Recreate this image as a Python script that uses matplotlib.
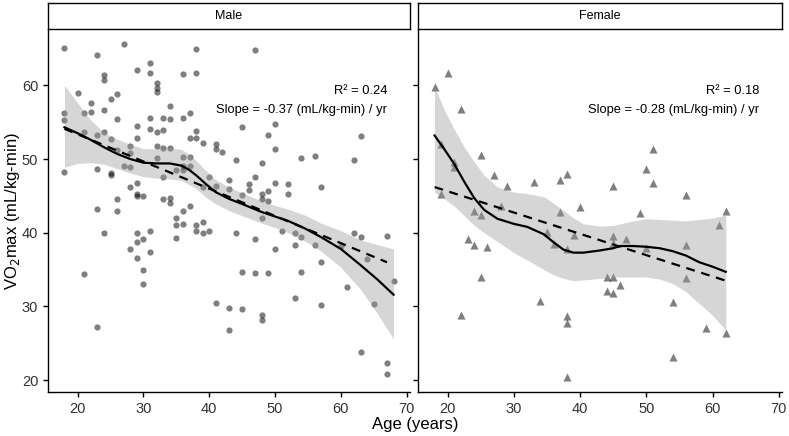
import matplotlib
matplotlib.use("Agg")
import matplotlib.pyplot as plt
import numpy as np

plt.rcParams['font.family'] = ['Liberation Sans', 'DejaVu Sans']

# ---- data ----
male_age = [18, 27, 23, 31, 29, 31, 24, 24, 32, 32, 32, 20, 25, 26, 22, 34, 21, 22, 24, 18,
            18, 26, 31, 33, 34, 29, 31, 32, 33, 21, 23, 24, 25, 29, 28, 28, 32, 33, 34, 26,
            32, 27, 28, 18, 23, 25, 38, 38, 36, 37, 36, 38, 37, 38, 39, 41, 41, 36, 37, 36,
            37, 35, 36, 40, 41, 28, 29, 29, 29, 30, 33, 34, 34, 23, 26, 35, 36, 37, 25, 33,
            26, 35, 35, 24, 29, 31, 30, 29, 28, 31, 29, 30, 21, 30, 23, 41, 43, 47, 39, 43,
            46, 46, 50, 52, 49, 48, 48, 49, 45, 52, 36, 38, 39, 38, 39, 40, 44, 48, 47, 51,
            53, 54, 53, 50, 45, 47, 49, 54, 43, 45, 53, 56, 62, 63, 67, 57, 64, 68, 61, 48,
            48, 43, 57, 65, 63, 67, 67, 47, 45, 50, 49, 63, 42, 44, 50, 48, 54, 56, 62, 57, 60]
male_vo2 = [65.1, 65.6, 64.1, 63.0, 62.1, 61.6, 61.4, 60.7, 60.3, 59.7, 59.1, 58.9, 58.2, 58.8,
            57.6, 57.2, 56.3, 56.4, 56.7, 56.2, 55.3, 55.4, 55.6, 55.6, 55.4, 54.5, 54.1, 53.6,
            54.0, 53.7, 53.3, 53.6, 52.7, 52.9, 51.8, 50.8, 51.7, 51.5, 51.5, 51.2, 50.1, 49.0,
            48.9, 48.2, 48.6, 48.1, 64.9, 61.6, 61.5, 56.2, 55.6, 53.8, 52.8, 52.8, 52.2, 52.1,
            51.3, 50.3, 50.3, 49.1, 49.1, 48.5, 48.5, 47.6, 46.4, 46.2, 46.7, 45.3, 45.0, 45.0,
            44.6, 44.7, 44.1, 43.2, 42.9, 42.0, 42.9, 43.6, 47.8, 47.5, 44.6, 41.0, 39.3, 40.0,
            40.0, 40.2, 39.2, 38.7, 37.8, 37.4, 36.6, 35.0, 34.4, 33.0, 27.2, 30.5, 47.2, 47.5,
            46.2, 45.9, 46.6, 45.8, 46.7, 46.6, 45.7, 45.3, 44.6, 44.3, 45.1, 45.3, 41.2, 41.1,
            41.4, 40.3, 39.9, 40.2, 39.9, 42.0, 39.2, 40.2, 40.0, 39.4, 38.3, 37.8, 34.7, 34.5,
            34.5, 34.7, 29.8, 29.6, 31.1, 38.4, 39.9, 39.4, 39.6, 36.0, 36.4, 33.5, 32.6, 28.8,
            28.2, 26.8, 30.2, 30.4, 23.8, 22.4, 20.8, 64.8, 54.4, 54.7, 53.2, 53.1, 50.9, 49.9,
            51.3, 49.4, 50.1, 50.4, 49.8, 46.2, 38.2]

female_age = [20, 18, 22, 19, 21, 21, 25, 27, 29, 33, 37, 38, 40, 37, 19, 24, 25, 28, 23, 24,
              26, 25, 22, 34, 38, 38, 38, 35, 39, 38, 36, 51, 50, 51, 45, 56, 49, 62, 61, 45,
              45, 47, 50, 56, 56, 44, 45, 44, 45, 46, 54, 59, 62, 54]
female_vo2 = [61.7, 59.8, 56.8, 52.0, 49.6, 48.9, 50.6, 47.9, 46.3, 46.9, 47.1, 48.0, 43.5,
              42.8, 45.2, 43.0, 42.4, 43.6, 39.1, 38.3, 38.1, 34.0, 28.9, 30.7, 28.7, 27.8,
              20.4, 40.1, 39.7, 37.8, 38.5, 51.3, 48.6, 46.7, 46.3, 45.1, 42.7, 42.9, 41.0,
              39.6, 38.6, 39.1, 37.9, 38.4, 33.9, 34.0, 34.0, 32.1, 31.8, 32.9, 30.6, 27.1,
              26.4, 23.1]

# smooth (loess) curve and band
male_fit_age = [18, 20, 22, 24, 26, 28, 30, 32, 34, 35.8, 37, 38, 39.5, 41, 43, 45, 48, 50,
                52, 54.5, 57, 60, 63, 65.5, 68]
male_fit = [54.3, 53.5, 52.6, 51.6, 50.7, 50.0, 49.5, 49.4, 49.4, 49.1, 48.5, 47.8, 46.6, 45.5,
            44.6, 43.9, 42.8, 42.2, 41.6, 40.6, 39.4, 37.8, 35.6, 33.7, 31.6]
male_hi = [60.0, 57.6, 55.3, 53.6, 52.7, 52.0, 51.4, 51.4, 51.5, 51.3, 50.6, 49.8, 48.4, 47.2,
           46.2, 45.4, 44.3, 43.7, 43.2, 42.4, 41.3, 40.3, 39.0, 38.4, 37.8]
male_lo = [48.9, 49.4, 49.5, 49.3, 48.7, 48.1, 47.6, 47.4, 47.3, 47.1, 46.5, 46.0, 44.8, 43.9,
           43.0, 42.3, 41.3, 40.7, 40.0, 38.9, 37.5, 35.3, 32.3, 29.1, 25.6]

female_fit_age = [18, 19.5, 21, 22.5, 24, 25.5, 27.5, 30, 32, 34.5, 36, 37.5, 39, 40.5, 43, 45,
                  46, 48, 50, 52, 54, 56, 58, 60, 62]
female_fit = [53.2, 51.3, 49.3, 46.9, 44.7, 43.1, 41.9, 41.2, 40.8, 39.8, 38.7, 37.7, 37.3, 37.3,
              37.6, 37.9, 38.2, 38.2, 38.1, 37.9, 37.5, 36.9, 36.0, 35.4, 34.7]
female_hi = [59.8, 56.6, 54.0, 51.6, 49.6, 47.8, 46.2, 45.5, 45.3, 44.9, 44.0, 43.0, 42.0, 41.2,
             40.9, 41.0, 41.2, 41.6, 41.9, 41.8, 41.7, 41.6, 41.8, 42.0, 42.4]
female_lo = [45.5, 44.6, 43.6, 42.3, 41.0, 40.0, 38.8, 37.3, 36.3, 35.0, 34.3, 33.8, 33.5, 33.6,
             33.8, 34.0, 34.0, 34.0, 34.0, 33.7, 33.1, 32.0, 30.4, 28.8, 26.8]

# linear fits
male_lm_age = [18, 67]
male_lm = [54.1, 36.0]
female_lm_age = [18, 62]
female_lm = [46.2, 33.5]

panels = ["Male", "Female"]
r2_labels = ["R\u00b2 = 0.24", "R\u00b2 = 0.18"]
slope_labels = ["Slope = -0.37 (mL/kg-min) / yr", "Slope = -0.28 (mL/kg-min) / yr"]
xticks = [20, 30, 40, 50, 60, 70]
yticks = [20, 30, 40, 50, 60]

W, H = 789, 436
fig = plt.figure(figsize=(W / 100, H / 100), dpi=100)

def ax_rect(l, t, r, b):
    return [l / W, 1 - b / H, (r - l) / W, (b - t) / H]

axes = [fig.add_axes(ax_rect(48, 30, 410, 392)), fig.add_axes(ax_rect(418, 30, 782, 392))]

data = [
    (male_age, male_vo2, male_fit_age, male_fit, male_lo, male_hi, male_lm_age, male_lm, 'o', 20),
    (female_age, female_vo2, female_fit_age, female_fit, female_lo, female_hi, female_lm_age, female_lm, '^', 34),
]

for i, ax in enumerate(axes):
    xa, ya, fa, fv, flo, fhi, la, lv, mk, ms = data[i]
    ax.scatter(xa, ya, marker=mk, s=ms, color='black', alpha=0.5, linewidths=0, zorder=2)
    ax.fill_between(fa, flo, fhi, color='#999999', alpha=0.4, linewidth=0, zorder=3)
    ax.plot(fa, fv, color='black', lw=1.6, zorder=4, solid_joinstyle='round')
    ax.plot(la, lv, color='black', lw=1.6, ls=(0, (4, 3)), zorder=4)
    ax.set_xlim(15.5, 70.5)
    ax.set_ylim(18.4, 67.5)
    ax.set_xticks(xticks)
    ax.set_yticks(yticks)
    for s in ['top', 'right']:
        ax.spines[s].set_visible(False)
    for s in ['left', 'bottom']:
        ax.spines[s].set_linewidth(1.0)
    ax.tick_params(axis='both', labelsize=10.5, length=3.5, width=1.0, colors='black', labelcolor='#333333')
    if i == 1:
        ax.tick_params(axis='y', labelleft=False)
    ax.text(0.937, 0.832, r2_labels[i], transform=ax.transAxes, ha='right', va='center', fontsize=9.3)
    ax.text(0.937, 0.779, slope_labels[i], transform=ax.transAxes, ha='right', va='center', fontsize=9.3)

# strips
for (l, r), name in zip([(48, 410), (418, 782)], panels):
    sax = fig.add_axes(ax_rect(l, 3, r, 29))
    sax.set_xticks([]); sax.set_yticks([])
    for s in sax.spines.values():
        s.set_linewidth(1.0)
    sax.text(0.5, 0.5, name, ha='center', va='center', fontsize=9, transform=sax.transAxes)

fig.text(415 / W, 1 - 424 / H, "Age (years)", ha='center', va='center', fontsize=12)
fig.text(13 / W, 1 - 211 / H, r"VO$_2$max (mL/kg-min)", ha='center', va='center', rotation=90, fontsize=12)

fig.savefig("out.png", dpi=100)
